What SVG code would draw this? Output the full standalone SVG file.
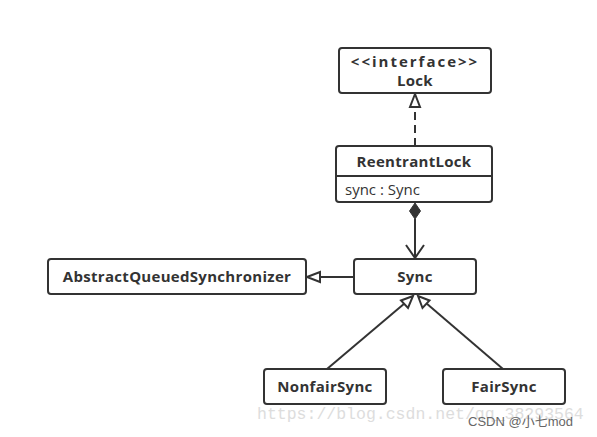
<svg xmlns="http://www.w3.org/2000/svg" width="597" height="437" viewBox="0 0 597 437">
<style>
.box{fill:#fff;stroke:#333;stroke-width:2}
.b{font-family:"Open Sans","Noto Sans",sans-serif;font-weight:bold;font-size:15px;letter-spacing:0.3px;fill:#333;text-anchor:middle}
.r{font-family:"Open Sans","Noto Sans",sans-serif;font-size:15px;fill:#333}
.ln{fill:none;stroke:#333;stroke-width:2}
.tri{fill:#fff;stroke:#333;stroke-width:2}
</style>
<rect width="597" height="437" fill="#fff"/>
<g id="connectors">
  <line class="ln" x1="415" y1="146" x2="415" y2="108" stroke-dasharray="8,5"/>
  <polygon class="tri" points="415,94 410,107 420,107"/>
  <polygon points="415,203 420.5,211 415,219 409.5,211" fill="#333" stroke="#333" stroke-width="1"/>
  <line class="ln" x1="415" y1="219" x2="415" y2="258"/>
  <polyline class="ln" points="406,245 415,258 424,245"/>
  <line class="ln" x1="354" y1="277" x2="320" y2="277"/>
  <polygon class="tri" points="307,277 320,272 320,282"/>
  <line class="ln" x1="327" y1="369" x2="405" y2="303"/>
  <polygon class="tri" points="413,296 401,300.5 408,308"/>
  <line class="ln" x1="503" y1="369" x2="426" y2="303"/>
  <polygon class="tri" points="418,296 422.5,308 429.5,300.5"/>
</g>
<g id="lock">
  <rect class="box" x="339" y="48" width="152" height="45" rx="3"/>
  <text class="b" x="415" y="67" style="letter-spacing:2px">&lt;&lt;interface&gt;&gt;</text>
  <text class="b" x="415" y="86">Lock</text>
</g>
<g id="reentrantlock">
  <rect class="box" x="336" y="146" width="156" height="56" rx="3"/>
  <line class="ln" x1="336" y1="176" x2="492" y2="176"/>
  <text class="b" x="414" y="167">ReentrantLock</text>
  <text class="r" x="345" y="195">sync : Sync</text>
</g>
<g id="aqs">
  <rect class="box" x="48" y="259" width="258" height="35" rx="3"/>
  <text class="b" x="177" y="282">AbstractQueuedSynchronizer</text>
</g>
<g id="sync">
  <rect class="box" x="354" y="259" width="122" height="35" rx="3"/>
  <text class="b" x="415" y="282">Sync</text>
</g>
<g id="nonfairsync">
  <rect class="box" x="264" y="369" width="122" height="35" rx="3"/>
  <text class="b" x="325" y="392">NonfairSync</text>
</g>
<g id="fairsync">
  <rect class="box" x="443" y="369" width="122" height="35" rx="3"/>
  <text class="b" x="504" y="392">FairSync</text>
</g>
<g id="watermark">
  <text x="257" y="419" font-family="'Liberation Mono',monospace" font-size="16.5px" fill="#ddd">https://blog.csdn.net/qq_38293564</text>
  <text x="468" y="426" font-family="'Liberation Sans','Noto Sans CJK SC',sans-serif" font-size="13px" fill="#666">CSDN @小七mod</text>
</g>
</svg>
